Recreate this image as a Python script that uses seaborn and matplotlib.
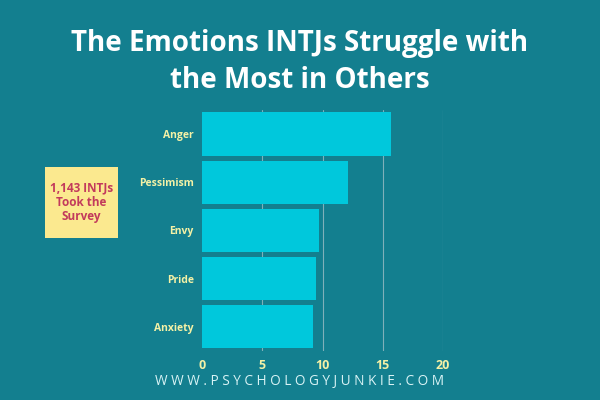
import matplotlib
matplotlib.use("Agg")
import matplotlib.pyplot as plt
import seaborn as sns
import pandas as pd
from matplotlib.patches import FancyBboxPatch

# Datos
emotions = ["Anger", "Pessimism", "Envy", "Pride", "Anxiety"]
values = [15.7, 12.1, 9.7, 9.5, 9.2]
ticks = [0, 5, 10, 15, 20]

bg = "#137f8f"
bar_col = "#00c8dc"
tick_col = "#f4f1a6"

sns.set_theme(style="white")
plt.rcParams['font.family'] = ['Open Sans', 'DejaVu Sans']

df = pd.DataFrame({"emotion": emotions, "value": values})

fig = plt.figure(figsize=(6, 4), dpi=100, facecolor=bg)
ax = fig.add_axes([0.337, 0.123, 0.401, 0.602])
ax.set_facecolor(bg)

sns.barplot(data=df, x="value", y="emotion", orient="h", color=bar_col,
            width=0.9, saturation=1, linewidth=0, edgecolor="none", ax=ax, zorder=3)

ax.set_xlim(0, 20)
ax.set_xticks(ticks)
ax.set_xticklabels([str(t) for t in ticks], color=tick_col, fontsize=9, fontweight="bold")
ax.set_yticklabels(emotions, color=tick_col, fontsize=7.5, fontweight="bold")
ax.tick_params(axis="both", length=0, pad=6)
ax.set_xlabel("")
ax.set_ylabel("")
for s in ax.spines.values():
    s.set_visible(False)
for t in ticks[1:]:
    ax.axvline(t, color="#7fb0b9", lw=0.8, zorder=1)

# Titulo
fig.text(0.5, 0.89, "The Emotions INTJs Struggle with", ha="center", va="center",
         color="white", fontsize=20, fontweight="bold")
fig.text(0.5, 0.80, "the Most in Others", ha="center", va="center",
         color="white", fontsize=20, fontweight="bold")

# Caja amarilla
box = FancyBboxPatch((45 / 600, 1 - 238 / 400), 73 / 600, 71 / 400,
                     boxstyle="square,pad=0", transform=fig.transFigure,
                     facecolor="#fbe98f", edgecolor="none")
fig.patches.append(box)
fig.text(81.5 / 600, 1 - 202 / 400, "1,143 INTJs\nTook the\nSurvey", ha="center",
         va="center", color="#c23a5c", fontsize=8.5, fontweight="bold", linespacing=1.15)

# Pie
fig.text(0.5, 1 - 381 / 400, " ".join("WWW.PSYCHOLOGYJUNKIE.COM"), ha="center",
         va="center", color="#d8f3f5", fontsize=9.8)

fig.savefig("out.png", dpi=100, facecolor=bg)
